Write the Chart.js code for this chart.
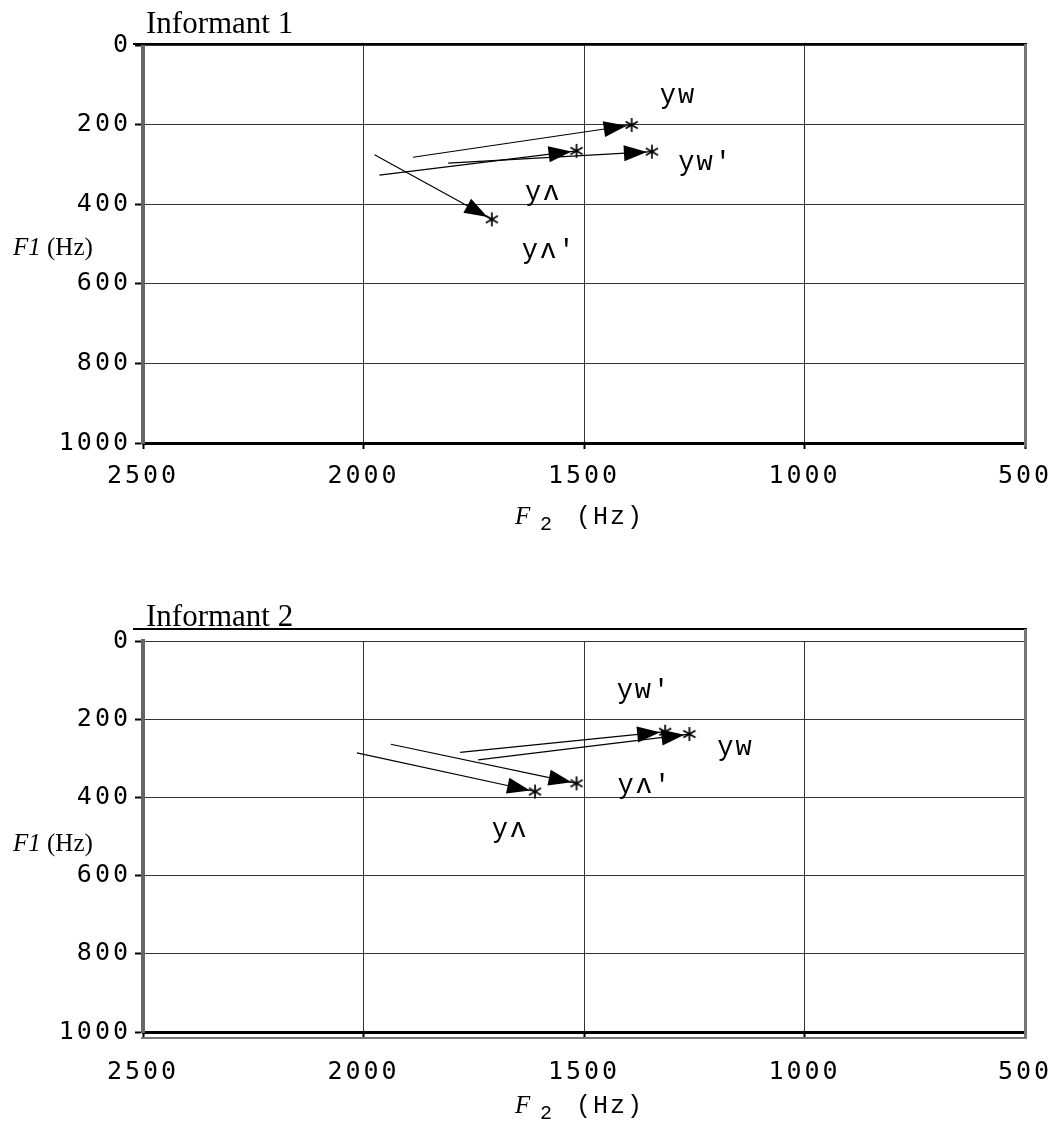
<!DOCTYPE html>
<html>
<head>
<meta charset="utf-8">
<title>Informant F1/F2</title>
<script src="https://cdn.jsdelivr.net/npm/chart.js@4.4.1/dist/chart.umd.min.js"></script>
<style>
  html, body { margin: 0; padding: 0; background: #fff; }
  #wrap { position: relative; width: 1055px; height: 1126px; overflow: hidden; }
  canvas { position: absolute; left: 0; }
  #inf1 { top: 0; }
  #inf2 { top: 560px; }
</style>
</head>
<body>
<div id="wrap">
  <canvas id="inf1" width="1055" height="560"></canvas>
  <canvas id="inf2" width="1055" height="566"></canvas>
</div>
<script>
// axis ticks (Hz)
const f2TickValues = [2500, 2000, 1500, 1000, 500];
const f1TickValues = [0, 200, 400, 600, 800, 1000];

// Informant 1: glide start -> target (F2, F1)
const inf1Names = ['yw', "yw'", 'yʌ', "yʌ'"];
const inf1StartF2 = [1888, 1808, 1964, 1975];
const inf1StartF1 = [282, 297, 327, 276];
const inf1EndF2 = [1392, 1346, 1517, 1709];
const inf1EndF1 = [201, 268, 266, 438];
const inf1LabelF2 = [1328, 1286, 1634, 1641];
const inf1LabelF1 = [146, 314, 389, 535];

// Informant 2
const inf2Names = ['yw', "yw'", 'yʌ', "yʌ'"];
const inf2StartF2 = [1740, 1781, 2015, 1938];
const inf2StartF1 = [304, 285, 286, 264];
const inf2EndF2 = [1261, 1316, 1611, 1517];
const inf2EndF1 = [238, 232, 385, 364];
const inf2LabelF2 = [1198, 1426, 1709, 1424];
const inf2LabelF1 = [292, 147, 502, 390];

// asterisk marker for the target point
const asterisk = document.createElement('canvas');
asterisk.width = 18;
asterisk.height = 18;
(function () {
    const c = asterisk.getContext('2d');
    c.strokeStyle = '#000';
    c.lineWidth = 1.7;
    [90, 30, 150].forEach(a => {
        const r = a * Math.PI / 180;
        const dx = Math.cos(r) * 7, dy = Math.sin(r) * 7;
        c.beginPath();
        c.moveTo(9 - dx, 9 - dy);
        c.lineTo(9 + dx, 9 + dy);
        c.stroke();
    });
})();

// wide monospace look for the tick labels
const tickSpacing = {
    id: 'tickSpacing',
    beforeUpdate(chart) { chart.ctx.letterSpacing = '3px'; },
    beforeDraw(chart) { chart.ctx.letterSpacing = '3px'; }
};

// filled arrowheads at the end of each glide
const arrowHeads = {
    id: 'arrowHeads',
    beforeDatasetsDraw(chart) {
        const ctx = chart.ctx;
        ctx.save();
        ctx.fillStyle = '#000';
        chart.data.datasets.forEach((ds, i) => {
            const pts = chart.getDatasetMeta(i).data;
            const a = pts[0], b = pts[1];
            const ang = Math.atan2(b.y - a.y, b.x - a.x);
            const cos = Math.cos(ang), sin = Math.sin(ang);
            const tx = b.x - cos * 5, ty = b.y - sin * 5;
            const bx = tx - cos * 23, by = ty - sin * 23;
            ctx.beginPath();
            ctx.moveTo(tx, ty);
            ctx.lineTo(bx - sin * 8, by + cos * 8);
            ctx.lineTo(bx + sin * 8, by - cos * 8);
            ctx.closePath();
            ctx.fill();
        });
        ctx.restore();
    }
};

// vowel labels, titles and the plot frame
const plotText = {
    id: 'plotText',
    afterDraw(chart, args, opts) {
        const ctx = chart.ctx;
        const area = chart.chartArea;
        const xs = chart.scales.x, ys = chart.scales.y;
        ctx.save();

        // frame
        ctx.strokeStyle = '#000';
        ctx.lineWidth = 2;
        ctx.beginPath();
        ctx.moveTo(area.left - 10, area.top - opts.topGap);
        ctx.lineTo(area.right + 2, area.top - opts.topGap);
        ctx.stroke();
        ctx.strokeStyle = '#777';
        ctx.lineWidth = 3;
        ctx.beginPath();
        ctx.moveTo(area.right + 0.5, area.top - opts.topGap);
        ctx.lineTo(area.right + 0.5, area.bottom + Math.max(opts.bottomGap, 4));
        ctx.stroke();
        if (opts.bottomGap) {
            ctx.lineWidth = 2;
            ctx.beginPath();
            ctx.moveTo(area.left - 2, area.bottom + opts.bottomGap);
            ctx.lineTo(area.right + 2, area.bottom + opts.bottomGap);
            ctx.stroke();
        }

        ctx.fillStyle = '#000';
        ctx.textBaseline = 'alphabetic';
        ctx.textAlign = 'left';

        // vowel labels
        ctx.font = '27px "Liberation Mono", monospace';
        ctx.letterSpacing = '2px';
        opts.names.forEach((n, i) => {
            ctx.fillText(n, xs.getPixelForValue(opts.labelF2[i]), ys.getPixelForValue(opts.labelF1[i]));
        });

        // chart title
        ctx.letterSpacing = '0px';
        ctx.font = '31px "Liberation Serif", serif';
        ctx.fillText(opts.title, area.left + 3, area.top - opts.titleGap);

        // F1 axis title
        const fy = area.top + 210;
        ctx.font = 'italic 25px "Liberation Serif", serif';
        ctx.fillText('F1', 13, fy);
        const w = ctx.measureText('F1 ').width;
        ctx.font = '25px "Liberation Serif", serif';
        ctx.fillText('(Hz)', 13 + w, fy);

        // F2 axis title
        const x0 = (area.left + area.right) / 2 - 69;
        const by = area.bottom + 81;
        ctx.font = 'italic 25px "Liberation Serif", serif';
        ctx.fillText('F', x0, by);
        ctx.font = '20px "Liberation Mono", monospace';
        ctx.fillText('2', x0 + 25, by + 6);
        ctx.font = '25px "Liberation Mono", monospace';
        ctx.letterSpacing = '2px';
        ctx.fillText('(Hz)', x0 + 61, by);

        ctx.restore();
    }
};

function drawInformant(canvasId, names, startF2, startF1, endF2, endF1, labelF2, labelF1, look) {
    const datasets = names.map((name, i) => ({
        label: name,
        data: [{ x: startF2[i], y: startF1[i] }, { x: endF2[i], y: endF1[i] }],
        borderColor: '#000',
        borderWidth: 1.2,
        pointStyle: asterisk,
        pointRadius: c => c.dataIndex === 1 ? 6 : 0,
        pointHoverRadius: c => c.dataIndex === 1 ? 6 : 0
    }));

    const tickFont = { family: '"DejaVu Sans Mono", monospace', size: 25 };

    new Chart(document.getElementById(canvasId), {
        type: 'line',
        data: { datasets },
        options: {
            responsive: false,
            animation: false,
            events: [],
            layout: { padding: { top: look.top, right: 30, bottom: 0, left: 0 } },
            scales: {
                x: {
                    type: 'linear',
                    min: 500,
                    max: 2500,
                    reverse: true,
                    afterFit: s => {
                        s.height = look.xAxisHeight;
                        s.paddingLeft = 0;
                        s.paddingRight = 0;
                    },
                    afterBuildTicks: s => { s.ticks = f2TickValues.map(v => ({ value: v })); },
                    ticks: { color: '#000', font: tickFont, padding: look.xPad, maxRotation: 0, callback: v => String(v) },
                    grid: { color: '#333', lineWidth: 1, tickLength: 6, tickWidth: 2, tickColor: '#000' },
                    border: { display: true, color: '#000', width: 3 }
                },
                y: {
                    min: 0,
                    max: 1000,
                    reverse: true,
                    afterFit: s => {
                        s.width = 143;
                        s.paddingTop = 0;
                        s.paddingBottom = 0;
                    },
                    afterBuildTicks: s => { s.ticks = f1TickValues.map(v => ({ value: v })); },
                    ticks: { color: '#000', font: tickFont, padding: 4, callback: v => String(v) },
                    grid: { color: '#333', lineWidth: 1, tickLength: 8, tickWidth: 2, tickColor: '#000' },
                    border: { display: true, color: '#666', width: 4 }
                }
            },
            plugins: {
                legend: { display: false },
                tooltip: { enabled: false },
                plotText: {
                    names: names,
                    labelF2: labelF2,
                    labelF1: labelF1,
                    title: look.title,
                    titleGap: look.titleGap,
                    topGap: look.topGap,
                    bottomGap: look.bottomGap
                }
            }
        },
        plugins: [tickSpacing, arrowHeads, plotText]
    });
}

drawInformant('inf1', inf1Names, inf1StartF2, inf1StartF1, inf1EndF2, inf1EndF1, inf1LabelF2, inf1LabelF1,
    { title: 'Informant 1', top: 45, xAxisHeight: 117, xPad: 12, titleGap: 12, topGap: 1, bottomGap: 0 });

drawInformant('inf2', inf2Names, inf2StartF2, inf2StartF1, inf2EndF2, inf2EndF1, inf2LabelF2, inf2LabelF1,
    { title: 'Informant 2', top: 81, xAxisHeight: 94, xPad: 19, titleGap: 15, topGap: 12, bottomGap: 6 });
</script>
</body>
</html>
